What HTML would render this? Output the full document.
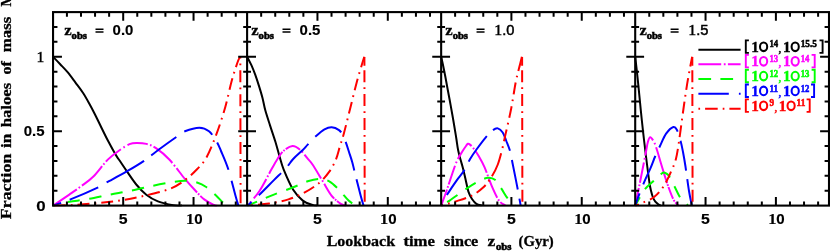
<!DOCTYPE html>
<html><head><meta charset="utf-8"><title>Fraction in haloes</title>
<style>
html,body{margin:0;padding:0;background:#fff;}
body{width:830px;height:251px;overflow:hidden;position:relative;font-family:"Liberation Serif",serif;}
</style></head><body>
<svg width="830" height="251" viewBox="0 0 830 251" style="position:absolute;left:0;top:0;will-change:transform">
<rect x="0" y="0" width="830" height="251" fill="#ffffff"/>
<defs><clipPath id="cf"><rect x="53.05" y="12.10" width="775.95" height="194.50"/></clipPath></defs>
<g clip-path="url(#cf)" fill="none" stroke-width="2.00" stroke-linejoin="round">
<path d="M53.00,56.70 C54.20,57.95 57.73,61.58 60.20,64.20 C62.67,66.82 65.25,69.33 67.80,72.40 C70.35,75.47 72.95,79.17 75.50,82.60 C78.05,86.03 80.77,89.43 83.10,93.00 C85.43,96.57 87.60,100.58 89.50,104.00 C91.40,107.42 92.68,109.92 94.50,113.50 C96.32,117.08 98.15,120.95 100.40,125.50 C102.65,130.05 105.45,135.92 108.00,140.80 C110.55,145.68 113.77,151.52 115.70,154.80 C117.63,158.08 117.70,157.70 119.60,160.50 C121.50,163.30 124.25,167.52 127.10,171.60 C129.95,175.68 133.50,181.15 136.70,185.00 C139.90,188.85 142.77,191.97 146.30,194.70 C149.83,197.43 153.40,199.63 157.90,201.40 C162.40,203.17 169.28,204.60 173.30,205.30 C177.32,206.00 180.55,205.55 182.00,205.60" stroke="#000000"/>
<path d="M53.00,205.70 C55.72,203.85 64.58,197.87 69.30,194.60 C74.02,191.33 77.28,189.12 81.30,186.10 C85.32,183.08 88.98,180.92 93.40,176.50 C97.82,172.08 103.38,164.02 107.80,159.60 C112.22,155.18 116.28,152.58 119.90,150.00 C123.52,147.42 126.70,145.28 129.50,144.10 C132.30,142.92 133.88,142.93 136.70,142.90 C139.52,142.87 143.18,143.02 146.40,143.90 C149.62,144.78 152.18,145.60 156.00,148.20 C159.82,150.80 164.48,154.38 169.30,159.50 C174.12,164.62 180.68,173.85 184.90,178.90 C189.12,183.95 191.38,186.38 194.60,189.80 C197.82,193.22 200.98,196.87 204.20,199.40 C207.42,201.93 211.77,203.95 213.90,205.00 C216.03,206.05 216.48,205.58 217.00,205.70" stroke="#ff00ff" stroke-dasharray="28.96 2.26 1.70 2.26 28.22 2.00 1.70 2.00 19.59 3.04 1.70 3.04 20.87 2.41 1.70 2.41 24.88 2.45 1.70 2.45 31.77 1.47 1.70 1.47 2000.00 0.01 0.01 0.01"/>
<path d="M53.00,205.70 C55.72,205.05 63.78,202.85 69.30,201.80 C74.82,200.75 79.28,200.60 86.10,199.40 C92.92,198.20 102.97,196.00 110.20,194.60 C117.43,193.20 122.67,192.42 129.50,191.00 C136.33,189.58 144.37,187.52 151.20,186.10 C158.03,184.68 164.88,183.38 170.50,182.50 C176.12,181.62 180.48,180.80 184.90,180.80 C189.32,180.80 193.38,181.42 197.00,182.50 C200.62,183.58 203.38,185.08 206.60,187.30 C209.82,189.52 213.48,193.18 216.30,195.80 C219.12,198.42 221.22,201.35 223.50,203.00 C225.78,204.65 228.92,205.25 230.00,205.70" stroke="#00ff00" stroke-dasharray="12.2 9.55" stroke-dashoffset="6.45"/>
<path d="M53.00,205.70 C55.92,204.65 62.97,202.47 70.50,199.40 C78.03,196.33 92.18,190.12 98.20,187.30 C104.22,184.48 101.78,185.18 106.60,182.50 C111.42,179.82 120.87,174.82 127.10,171.20 C133.33,167.58 138.58,164.50 144.00,160.80 C149.42,157.10 154.18,152.98 159.60,149.00 C165.02,145.02 172.28,139.85 176.50,136.90 C180.72,133.95 181.08,132.83 184.90,131.30 C188.72,129.77 195.38,127.70 199.40,127.70 C203.42,127.70 206.18,129.08 209.00,131.30 C211.82,133.52 214.30,137.72 216.30,141.00 C218.30,144.28 219.00,146.28 221.00,151.00 C223.00,155.72 225.88,161.83 228.30,169.30 C230.72,176.77 233.82,189.73 235.50,195.80 C237.18,201.87 237.92,204.05 238.40,205.70" stroke="#0000ff" stroke-dasharray="8.75 9.05 31.04 9.69 43.26 9.07 31.02 9.81 30.78 8.95 29.72 11.36 2000.00 0.01"/>
<path d="M53.00,205.70 C56.50,205.58 66.47,205.45 74.00,205.00 C81.53,204.55 90.15,203.82 98.20,203.00 C106.25,202.18 114.27,201.38 122.30,200.10 C130.33,198.82 138.37,197.22 146.40,195.30 C154.43,193.38 164.08,191.13 170.50,188.60 C176.92,186.07 180.48,183.32 184.90,180.10 C189.32,176.88 193.38,173.12 197.00,169.30 C200.62,165.48 203.33,163.13 206.60,157.20 C209.87,151.27 213.48,142.07 216.60,133.70 C219.72,125.33 222.80,115.73 225.30,107.00 C227.80,98.27 229.62,88.58 231.60,81.30 C233.58,74.02 235.80,67.40 237.20,63.30 C238.60,59.20 239.53,57.80 240.00,56.70" stroke="#ff0000" stroke-dasharray="11.9 5.1 1.7 5.1" stroke-dashoffset="23.00"/>
<path d="M240.30,56.90 L240.60,206.00" stroke="#ff0000" stroke-dasharray="1.50 5.10 1.75 5.10 11.95 5.10 1.75 5.10 11.95 5.10 1.75 5.10 11.95 5.10 1.75 5.10 11.95 5.10 1.75 5.10 11.95 5.10 1.75 5.10 11.95 0.01"/>
<path d="M247.10,56.70 C247.83,58.15 250.13,62.37 251.50,65.40 C252.87,68.43 254.03,71.40 255.30,74.90 C256.57,78.40 257.90,82.55 259.10,86.40 C260.30,90.25 261.47,94.02 262.50,98.00 C263.53,101.98 264.03,105.70 265.30,110.30 C266.57,114.90 268.42,120.35 270.10,125.60 C271.78,130.85 273.80,136.57 275.40,141.80 C277.00,147.03 278.33,152.42 279.70,157.00 C281.07,161.58 281.35,163.83 283.60,169.30 C285.85,174.77 290.00,184.58 293.20,189.80 C296.40,195.02 299.58,198.08 302.80,200.60 C306.02,203.12 310.08,204.07 312.50,204.90 C314.92,205.73 316.50,205.48 317.30,205.60" stroke="#000000"/>
<path d="M247.30,205.70 C249.33,203.25 255.47,197.07 259.50,191.00 C263.53,184.93 268.50,174.63 271.50,169.30 C274.50,163.97 275.48,162.08 277.50,159.00 C279.52,155.92 281.10,152.97 283.60,150.80 C286.10,148.63 289.73,146.17 292.50,146.00 C295.27,145.83 297.73,147.77 300.20,149.80 C302.67,151.83 305.25,155.75 307.30,158.20 C309.35,160.65 310.03,160.85 312.50,164.50 C314.97,168.15 318.90,174.88 322.10,180.10 C325.30,185.32 328.48,191.78 331.70,195.80 C334.92,199.82 338.98,202.55 341.40,204.20 C343.82,205.85 345.40,205.45 346.20,205.70" stroke="#ff00ff" stroke-dasharray="0.30 3.90 1.70 3.90 23.05 2.17 1.70 2.17 25.56 1.38 1.70 1.38 15.92 2.45 1.70 2.45 29.04 2.30 1.70 2.30 17.84 1.02 1.70 1.02 2000.00 0.01 0.01 0.01"/>
<path d="M247.30,205.70 C249.33,204.85 255.07,202.45 259.50,200.60 C263.93,198.75 268.28,196.82 273.90,194.60 C279.52,192.38 287.57,189.52 293.20,187.30 C298.83,185.08 303.28,182.70 307.70,181.30 C312.12,179.90 316.10,178.90 319.70,178.90 C323.30,178.90 326.08,179.48 329.30,181.30 C332.52,183.12 335.78,186.58 339.00,189.80 C342.22,193.02 345.80,198.00 348.60,200.60 C351.40,203.20 354.60,204.60 355.80,205.40" stroke="#00ff00" stroke-dasharray="12.2 9.55" stroke-dashoffset="1.65"/>
<path d="M247.30,205.70 C249.33,203.85 255.07,198.87 259.50,194.60 C263.93,190.33 269.48,184.52 273.90,180.10 C278.32,175.68 282.78,171.62 286.00,168.10 C289.22,164.58 290.40,162.02 293.20,159.00 C296.00,155.98 300.38,152.40 302.80,150.00 C305.22,147.60 305.48,146.92 307.70,144.60 C309.92,142.28 313.30,138.63 316.10,136.10 C318.90,133.57 321.90,130.88 324.50,129.40 C327.10,127.92 329.28,127.08 331.70,127.20 C334.12,127.32 337.12,128.72 339.00,130.10 C340.88,131.48 341.80,133.28 343.00,135.50 C344.20,137.72 345.20,140.65 346.20,143.40 C347.20,146.15 348.00,148.90 349.00,152.00 C350.00,155.10 351.27,158.72 352.20,162.00 C353.13,165.28 353.18,166.07 354.60,171.70 C356.02,177.33 359.20,190.13 360.70,195.80 C362.20,201.47 363.12,204.05 363.60,205.70" stroke="#0000ff" stroke-dasharray="5.79 9.77 31.31 9.95 30.41 9.60 30.60 10.61 30.06 8.82 2000.00 0.01"/>
<path d="M247.30,205.70 C250.93,205.33 262.25,204.55 269.10,203.50 C275.95,202.45 282.38,201.28 288.40,199.40 C294.42,197.52 299.98,195.02 305.20,192.20 C310.42,189.38 315.68,185.92 319.70,182.50 C323.72,179.08 326.58,175.57 329.30,171.70 C332.02,167.83 334.22,163.58 336.00,159.30 C337.78,155.02 338.70,150.27 340.00,146.00 C341.30,141.73 342.17,139.70 343.80,133.70 C345.43,127.70 347.60,118.73 349.80,110.00 C352.00,101.27 354.98,88.88 357.00,81.30 C359.02,73.72 360.68,68.60 361.90,64.50 C363.12,60.40 363.90,58.00 364.30,56.70" stroke="#ff0000" stroke-dasharray="11.9 5.1 1.7 5.1" stroke-dashoffset="13.00"/>
<path d="M364.40,56.90 L364.70,206.00" stroke="#ff0000" stroke-dasharray="8.90 4.40 11.95 5.10 1.75 5.10 11.95 5.10 1.75 5.10 11.95 5.10 1.75 5.10 11.95 5.10 1.75 5.10 11.95 5.10 1.75 5.10 11.95 5.10 1.75 5.10 11.95 0.01"/>
<path d="M441.20,56.70 C441.53,58.25 442.52,62.70 443.20,66.00 C443.88,69.30 444.57,72.67 445.30,76.50 C446.03,80.33 446.82,84.80 447.60,89.00 C448.38,93.20 449.22,97.45 450.00,101.70 C450.78,105.95 451.53,110.12 452.30,114.50 C453.07,118.88 453.92,123.92 454.60,128.00 C455.28,132.08 455.82,135.33 456.40,139.00 C456.98,142.67 457.42,146.58 458.10,150.00 C458.78,153.42 459.70,156.50 460.50,159.50 C461.30,162.50 462.03,164.58 462.90,168.00 C463.77,171.42 464.77,176.02 465.70,180.00 C466.63,183.98 467.45,188.73 468.50,191.90 C469.55,195.07 470.68,197.02 472.00,199.00 C473.32,200.98 474.73,202.73 476.40,203.80 C478.07,204.87 481.07,205.13 482.00,205.40" stroke="#000000"/>
<path d="M441.20,205.70 C442.17,203.00 445.20,194.70 447.00,189.50 C448.80,184.30 450.35,179.25 452.00,174.50 C453.65,169.75 455.18,164.83 456.90,161.00 C458.62,157.17 460.78,154.00 462.30,151.50 C463.82,149.00 465.07,147.28 466.00,146.00 C466.93,144.72 467.23,144.03 467.90,143.80 C468.57,143.57 469.07,143.85 470.00,144.60 C470.93,145.35 472.08,146.43 473.50,148.30 C474.92,150.17 476.65,152.62 478.50,155.80 C480.35,158.98 482.38,162.35 484.60,167.40 C486.82,172.45 489.40,180.57 491.80,186.10 C494.20,191.63 496.75,197.38 499.00,200.60 C501.25,203.82 504.25,204.60 505.30,205.40" stroke="#ff00ff" stroke-dasharray="17.21 1.73 1.70 1.73 19.84 2.77 1.70 2.77 22.86 2.32 1.70 2.32 24.48 1.97 1.70 1.97 21.41 1.86 1.70 1.86 2000.00 0.01 0.01 0.01"/>
<path d="M441.20,205.70 C442.60,204.85 445.38,203.45 449.60,200.60 C453.82,197.75 461.67,191.82 466.50,188.60 C471.33,185.38 474.98,183.12 478.60,181.30 C482.22,179.48 485.40,177.90 488.20,177.70 C491.00,177.50 493.20,178.28 495.40,180.10 C497.60,181.92 499.38,185.58 501.40,188.60 C503.42,191.62 505.28,195.40 507.50,198.20 C509.72,201.00 513.50,204.20 514.70,205.40" stroke="#00ff00" stroke-dasharray="12.2 9.55" stroke-dashoffset="14.45"/>
<path d="M441.20,205.70 C442.20,203.85 444.58,198.87 447.20,194.60 C449.82,190.33 454.08,184.12 456.90,180.10 C459.72,176.08 461.90,174.02 464.10,170.50 C466.30,166.98 468.10,162.42 470.10,159.00 C472.10,155.58 473.48,153.62 476.10,150.00 C478.72,146.38 482.98,140.62 485.80,137.30 C488.62,133.98 491.00,131.58 493.00,130.10 C495.00,128.62 496.18,128.00 497.80,128.40 C499.42,128.80 501.28,130.40 502.70,132.50 C504.12,134.60 505.10,137.98 506.30,141.00 C507.50,144.02 508.90,147.10 509.90,150.60 C510.90,154.10 511.10,156.08 512.30,162.00 C513.50,167.92 515.70,178.82 517.10,186.10 C518.50,193.38 520.10,202.43 520.70,205.70" stroke="#0000ff" stroke-dasharray="1.98 10.14 30.79 9.02 31.40 8.72 31.31 9.70 29.96 9.14 2000.00 0.01"/>
<path d="M441.20,205.70 C443.42,205.05 449.48,203.45 454.50,201.80 C459.52,200.15 466.48,198.22 471.30,195.80 C476.12,193.38 479.98,190.52 483.40,187.30 C486.82,184.08 489.40,180.30 491.80,176.50 C494.20,172.70 496.10,168.92 497.80,164.50 C499.50,160.08 500.78,154.73 502.00,150.00 C503.22,145.27 503.58,142.93 505.10,136.10 C506.62,129.27 509.30,118.13 511.10,109.00 C512.90,99.87 514.42,88.72 515.90,81.30 C517.38,73.88 519.00,68.60 520.00,64.50 C521.00,60.40 521.58,58.00 521.90,56.70" stroke="#ff0000" stroke-dasharray="2.10 5.10 1.70 5.10 11.90 5.10 1.70 5.10 11.90 4.55 1.70 4.55 24.80 5.40 1.70 5.40 12.10 5.10 1.70 5.10 11.90 5.10 1.70 5.10 11.90 5.10 1.70 5.10 2000.00 0.01 0.01 0.01"/>
<path d="M522.10,56.90 L522.40,206.00" stroke="#ff0000" stroke-dasharray="8.90 4.40 11.95 5.10 1.75 5.10 11.95 5.10 1.75 5.10 11.95 5.10 1.75 5.10 11.95 5.10 1.75 5.10 11.95 5.10 1.75 5.10 11.95 5.10 1.75 5.10 11.95 0.01"/>
<path d="M635.20,56.70 C635.60,60.25 636.82,70.62 637.60,78.00 C638.38,85.38 639.20,94.00 639.90,101.00 C640.60,108.00 641.08,113.25 641.80,120.00 C642.52,126.75 643.38,134.50 644.20,141.50 C645.02,148.50 645.82,155.08 646.70,162.00 C647.58,168.92 648.75,178.08 649.50,183.00 C650.25,187.92 650.62,189.08 651.20,191.50 C651.78,193.92 652.32,195.80 653.00,197.50 C653.68,199.20 654.42,200.57 655.30,201.70 C656.18,202.83 657.35,203.65 658.30,204.30 C659.25,204.95 660.55,205.38 661.00,205.60" stroke="#000000"/>
<path d="M635.20,205.70 C636.03,201.63 638.73,188.58 640.20,181.30 C641.67,174.02 642.98,167.22 644.00,162.00 C645.02,156.78 645.67,153.30 646.30,150.00 C646.93,146.70 647.15,144.32 647.80,142.20 C648.45,140.08 649.15,137.30 650.20,137.30 C651.25,137.30 652.92,139.92 654.10,142.20 C655.28,144.48 656.10,147.28 657.30,151.00 C658.50,154.72 659.63,159.05 661.30,164.50 C662.97,169.95 665.28,177.88 667.30,183.70 C669.32,189.52 671.58,195.78 673.40,199.40 C675.22,203.02 677.40,204.40 678.20,205.40" stroke="#ff00ff" stroke-dasharray="17.99 1.83 1.70 1.83 20.69 2.74 1.70 2.74 23.48 2.93 1.70 2.93 37.50 1.17 1.70 1.17 12.59 1.24 1.70 1.24 2000.00 0.01 0.01 0.01"/>
<path d="M635.20,205.70 C636.75,203.05 641.58,193.78 644.50,189.80 C647.42,185.82 650.45,183.97 652.70,181.80 C654.95,179.63 656.67,178.03 658.00,176.80 C659.33,175.57 659.77,175.13 660.70,174.40 C661.63,173.67 662.72,172.57 663.60,172.40 C664.48,172.23 665.12,172.83 666.00,173.40 C666.88,173.97 667.53,173.73 668.90,175.80 C670.27,177.87 672.25,182.07 674.20,185.80 C676.15,189.53 678.33,194.97 680.60,198.20 C682.87,201.43 686.60,204.03 687.80,205.20" stroke="#00ff00" stroke-dasharray="12.2 9.55" stroke-dashoffset="2.65"/>
<path d="M635.20,205.70 C635.93,203.65 638.05,197.47 639.60,193.40 C641.15,189.33 642.68,185.52 644.50,181.30 C646.32,177.08 648.70,172.32 650.50,168.10 C652.30,163.88 653.70,159.72 655.30,156.00 C656.90,152.28 658.30,149.52 660.10,145.80 C661.90,142.08 663.88,136.83 666.10,133.70 C668.32,130.57 671.58,127.60 673.40,127.00 C675.22,126.40 675.80,127.77 677.00,130.10 C678.20,132.43 679.60,137.35 680.60,141.00 C681.60,144.65 682.20,147.83 683.00,152.00 C683.80,156.17 684.40,159.50 685.40,166.00 C686.40,172.50 687.92,184.38 689.00,191.00 C690.08,197.62 691.42,203.25 691.90,205.70" stroke="#0000ff" stroke-dasharray="13.06 9.91 30.86 9.28 32.48 9.28 30.36 8.54 2000.00 0.01"/>
<path d="M635.20,205.70 C636.33,205.25 638.85,204.45 642.00,203.00 C645.15,201.55 650.48,199.82 654.10,197.00 C657.72,194.18 660.88,190.32 663.70,186.10 C666.52,181.88 668.98,176.15 671.00,171.70 C673.02,167.25 674.55,163.85 675.80,159.40 C677.05,154.95 677.73,149.68 678.50,145.00 C679.27,140.32 679.48,137.97 680.40,131.30 C681.32,124.63 682.87,112.93 684.00,105.00 C685.13,97.07 686.17,90.05 687.20,83.70 C688.23,77.35 689.37,71.40 690.20,66.90 C691.03,62.40 691.87,58.40 692.20,56.70" stroke="#ff0000" stroke-dasharray="11.9 5.1 1.7 5.1" stroke-dashoffset="7.80"/>
<path d="M692.30,56.90 L692.60,206.00" stroke="#ff0000" stroke-dasharray="8.90 4.40 11.95 5.10 1.75 5.10 11.95 5.10 1.75 5.10 11.95 5.10 1.75 5.10 11.95 5.10 1.75 5.10 11.95 5.10 1.75 5.10 11.95 5.10 1.75 5.10 11.95 0.01"/>
</g>
<g stroke="#000" fill="none">
<rect x="53.05" y="12.10" width="775.95" height="193.50" stroke-width="2.10"/>
<line x1="247.10" y1="12.10" x2="247.10" y2="205.60" stroke-width="2.10"/>
<line x1="441.15" y1="12.10" x2="441.15" y2="205.60" stroke-width="2.10"/>
<line x1="635.20" y1="12.10" x2="635.20" y2="205.60" stroke-width="2.10"/>
<path d="M66.92,205.60 L66.92,201.40 M66.92,12.10 L66.92,16.80 M80.99,205.60 L80.99,201.40 M80.99,12.10 L80.99,16.80 M95.06,205.60 L95.06,201.40 M95.06,12.10 L95.06,16.80 M109.13,205.60 L109.13,201.40 M109.13,12.10 L109.13,16.80 M123.20,205.60 L123.20,196.90 M123.20,12.10 L123.20,20.80 M137.27,205.60 L137.27,201.40 M137.27,12.10 L137.27,16.80 M151.34,205.60 L151.34,201.40 M151.34,12.10 L151.34,16.80 M165.41,205.60 L165.41,201.40 M165.41,12.10 L165.41,16.80 M179.48,205.60 L179.48,201.40 M179.48,12.10 L179.48,16.80 M193.55,205.60 L193.55,196.90 M193.55,12.10 L193.55,20.80 M207.62,205.60 L207.62,201.40 M207.62,12.10 L207.62,16.80 M221.69,205.60 L221.69,201.40 M221.69,12.10 L221.69,16.80 M235.76,205.60 L235.76,201.40 M235.76,12.10 L235.76,16.80 M261.17,205.60 L261.17,201.40 M261.17,12.10 L261.17,16.80 M275.24,205.60 L275.24,201.40 M275.24,12.10 L275.24,16.80 M289.31,205.60 L289.31,201.40 M289.31,12.10 L289.31,16.80 M303.38,205.60 L303.38,201.40 M303.38,12.10 L303.38,16.80 M317.45,205.60 L317.45,196.90 M317.45,12.10 L317.45,20.80 M331.52,205.60 L331.52,201.40 M331.52,12.10 L331.52,16.80 M345.59,205.60 L345.59,201.40 M345.59,12.10 L345.59,16.80 M359.66,205.60 L359.66,201.40 M359.66,12.10 L359.66,16.80 M373.73,205.60 L373.73,201.40 M373.73,12.10 L373.73,16.80 M387.80,205.60 L387.80,196.90 M387.80,12.10 L387.80,20.80 M401.87,205.60 L401.87,201.40 M401.87,12.10 L401.87,16.80 M415.94,205.60 L415.94,201.40 M415.94,12.10 L415.94,16.80 M430.01,205.60 L430.01,201.40 M430.01,12.10 L430.01,16.80 M455.12,205.60 L455.12,201.40 M455.12,12.10 L455.12,16.80 M469.19,205.60 L469.19,201.40 M469.19,12.10 L469.19,16.80 M483.26,205.60 L483.26,201.40 M483.26,12.10 L483.26,16.80 M497.33,205.60 L497.33,201.40 M497.33,12.10 L497.33,16.80 M511.40,205.60 L511.40,196.90 M511.40,12.10 L511.40,20.80 M525.47,205.60 L525.47,201.40 M525.47,12.10 L525.47,16.80 M539.54,205.60 L539.54,201.40 M539.54,12.10 L539.54,16.80 M553.61,205.60 L553.61,201.40 M553.61,12.10 L553.61,16.80 M567.68,205.60 L567.68,201.40 M567.68,12.10 L567.68,16.80 M581.75,205.60 L581.75,196.90 M581.75,12.10 L581.75,20.80 M595.82,205.60 L595.82,201.40 M595.82,12.10 L595.82,16.80 M609.89,205.60 L609.89,201.40 M609.89,12.10 L609.89,16.80 M623.96,205.60 L623.96,201.40 M623.96,12.10 L623.96,16.80 M649.27,205.60 L649.27,201.40 M649.27,12.10 L649.27,16.80 M663.34,205.60 L663.34,201.40 M663.34,12.10 L663.34,16.80 M677.41,205.60 L677.41,201.40 M677.41,12.10 L677.41,16.80 M691.48,205.60 L691.48,201.40 M691.48,12.10 L691.48,16.80 M705.55,205.60 L705.55,196.90 M705.55,12.10 L705.55,20.80 M719.62,205.60 L719.62,201.40 M719.62,12.10 L719.62,16.80 M733.69,205.60 L733.69,201.40 M733.69,12.10 L733.69,16.80 M747.76,205.60 L747.76,201.40 M747.76,12.10 L747.76,16.80 M761.83,205.60 L761.83,201.40 M761.83,12.10 L761.83,16.80 M775.90,205.60 L775.90,196.90 M775.90,12.10 L775.90,20.80 M789.97,205.60 L789.97,201.40 M789.97,12.10 L789.97,16.80 M804.04,205.60 L804.04,201.40 M804.04,12.10 L804.04,16.80 M818.11,205.60 L818.11,201.40 M818.11,12.10 L818.11,16.80 M53.05,190.72 L57.45,190.72 M243.20,190.72 L251.00,190.72 M437.25,190.72 L445.05,190.72 M631.30,190.72 L639.10,190.72 M829.00,190.72 L824.60,190.72 M53.05,175.83 L57.45,175.83 M243.20,175.83 L251.00,175.83 M437.25,175.83 L445.05,175.83 M631.30,175.83 L639.10,175.83 M829.00,175.83 L824.60,175.83 M53.05,160.95 L57.45,160.95 M243.20,160.95 L251.00,160.95 M437.25,160.95 L445.05,160.95 M631.30,160.95 L639.10,160.95 M829.00,160.95 L824.60,160.95 M53.05,146.06 L57.45,146.06 M243.20,146.06 L251.00,146.06 M437.25,146.06 L445.05,146.06 M631.30,146.06 L639.10,146.06 M829.00,146.06 L824.60,146.06 M53.05,131.18 L61.95,131.18 M238.20,131.18 L256.00,131.18 M432.25,131.18 L450.05,131.18 M626.30,131.18 L644.10,131.18 M829.00,131.18 L820.10,131.18 M53.05,116.29 L57.45,116.29 M243.20,116.29 L251.00,116.29 M437.25,116.29 L445.05,116.29 M631.30,116.29 L639.10,116.29 M829.00,116.29 L824.60,116.29 M53.05,101.41 L57.45,101.41 M243.20,101.41 L251.00,101.41 M437.25,101.41 L445.05,101.41 M631.30,101.41 L639.10,101.41 M829.00,101.41 L824.60,101.41 M53.05,86.52 L57.45,86.52 M243.20,86.52 L251.00,86.52 M437.25,86.52 L445.05,86.52 M631.30,86.52 L639.10,86.52 M829.00,86.52 L824.60,86.52 M53.05,71.64 L57.45,71.64 M243.20,71.64 L251.00,71.64 M437.25,71.64 L445.05,71.64 M631.30,71.64 L639.10,71.64 M829.00,71.64 L824.60,71.64 M53.05,56.75 L61.95,56.75 M238.20,56.75 L256.00,56.75 M432.25,56.75 L450.05,56.75 M626.30,56.75 L644.10,56.75 M829.00,56.75 L820.10,56.75 M53.05,41.87 L57.45,41.87 M243.20,41.87 L251.00,41.87 M437.25,41.87 L445.05,41.87 M631.30,41.87 L639.10,41.87 M829.00,41.87 L824.60,41.87 M53.05,26.98 L57.45,26.98 M243.20,26.98 L251.00,26.98 M437.25,26.98 L445.05,26.98 M631.30,26.98 L639.10,26.98 M829.00,26.98 L824.60,26.98" stroke-width="2.00"/>
</g>
<line x1="698.40" y1="49.70" x2="740.60" y2="49.70" stroke="#000000" stroke-width="2.00"/>
<line x1="698.40" y1="64.20" x2="740.60" y2="64.20" stroke="#ff00ff" stroke-width="2.00" stroke-dasharray="22.8 2.6 1.8 2.3"/>
<line x1="698.40" y1="79.00" x2="740.60" y2="79.00" stroke="#00ff00" stroke-width="2.00" stroke-dasharray="12.7 9.3"/>
<line x1="698.40" y1="93.80" x2="740.60" y2="93.80" stroke="#0000ff" stroke-width="2.00" stroke-dasharray="30.4 10.1"/>
<line x1="698.40" y1="108.70" x2="740.60" y2="108.70" stroke="#ff0000" stroke-width="2.00" stroke-dasharray="1.7 5 12.6 5"/>
<g font-family="'Liberation Serif', serif" font-weight="bold">
<path d="M748.90,40.40 H745.80 V52.90 H748.90" fill="none" stroke="#000000" stroke-width="1.9"/>
<text x="751.30" y="51.80" font-size="15.60" fill="#000000" stroke="#000000" stroke-width="0.4" textLength="7.6" lengthAdjust="spacingAndGlyphs">1</text><ellipse cx="763.60" cy="46.80" rx="3.6" ry="4.3" fill="none" stroke="#000000" stroke-width="2.05"/>
<text x="769.40" y="47.40" font-size="10.10" fill="#000000" stroke="#000000" stroke-width="0.55" text-anchor="start" textLength="8.70" lengthAdjust="spacingAndGlyphs">14</text>
<text x="778.30" y="51.60" font-size="13" font-weight="normal" fill="#000000" stroke="#000000" stroke-width="0.35">,</text>
<text x="782.90" y="51.80" font-size="15.60" fill="#000000" stroke="#000000" stroke-width="0.4" textLength="7.6" lengthAdjust="spacingAndGlyphs">1</text><ellipse cx="795.20" cy="46.80" rx="3.6" ry="4.3" fill="none" stroke="#000000" stroke-width="2.05"/>
<text x="800.70" y="47.40" font-size="10.10" fill="#000000" stroke="#000000" stroke-width="0.55" text-anchor="start" textLength="16.20" lengthAdjust="spacingAndGlyphs">15.5</text>
<path d="M819.50,40.40 H822.60 V52.90 H819.50" fill="none" stroke="#000000" stroke-width="1.9"/>
<path d="M748.90,54.90 H745.80 V67.40 H748.90" fill="none" stroke="#ff00ff" stroke-width="1.9"/>
<text x="751.30" y="66.30" font-size="15.60" fill="#ff00ff" stroke="#ff00ff" stroke-width="0.4" textLength="7.6" lengthAdjust="spacingAndGlyphs">1</text><ellipse cx="763.60" cy="61.30" rx="3.6" ry="4.3" fill="none" stroke="#ff00ff" stroke-width="2.05"/>
<text x="769.40" y="61.90" font-size="10.10" fill="#ff00ff" stroke="#ff00ff" stroke-width="0.55" text-anchor="start" textLength="8.70" lengthAdjust="spacingAndGlyphs">13</text>
<text x="778.30" y="66.10" font-size="13" font-weight="normal" fill="#ff00ff" stroke="#ff00ff" stroke-width="0.35">,</text>
<text x="782.90" y="66.30" font-size="15.60" fill="#ff00ff" stroke="#ff00ff" stroke-width="0.4" textLength="7.6" lengthAdjust="spacingAndGlyphs">1</text><ellipse cx="795.20" cy="61.30" rx="3.6" ry="4.3" fill="none" stroke="#ff00ff" stroke-width="2.05"/>
<text x="800.70" y="61.90" font-size="10.10" fill="#ff00ff" stroke="#ff00ff" stroke-width="0.55" text-anchor="start" textLength="8.70" lengthAdjust="spacingAndGlyphs">14</text>
<path d="M811.60,54.90 H814.70 V67.40 H811.60" fill="none" stroke="#ff00ff" stroke-width="1.9"/>
<path d="M748.90,69.70 H745.80 V82.20 H748.90" fill="none" stroke="#00ff00" stroke-width="1.9"/>
<text x="751.30" y="81.10" font-size="15.60" fill="#00ff00" stroke="#00ff00" stroke-width="0.4" textLength="7.6" lengthAdjust="spacingAndGlyphs">1</text><ellipse cx="763.60" cy="76.10" rx="3.6" ry="4.3" fill="none" stroke="#00ff00" stroke-width="2.05"/>
<text x="769.40" y="76.70" font-size="10.10" fill="#00ff00" stroke="#00ff00" stroke-width="0.55" text-anchor="start" textLength="8.70" lengthAdjust="spacingAndGlyphs">12</text>
<text x="778.30" y="80.90" font-size="13" font-weight="normal" fill="#00ff00" stroke="#00ff00" stroke-width="0.35">,</text>
<text x="782.90" y="81.10" font-size="15.60" fill="#00ff00" stroke="#00ff00" stroke-width="0.4" textLength="7.6" lengthAdjust="spacingAndGlyphs">1</text><ellipse cx="795.20" cy="76.10" rx="3.6" ry="4.3" fill="none" stroke="#00ff00" stroke-width="2.05"/>
<text x="800.70" y="76.70" font-size="10.10" fill="#00ff00" stroke="#00ff00" stroke-width="0.55" text-anchor="start" textLength="8.70" lengthAdjust="spacingAndGlyphs">13</text>
<path d="M811.60,69.70 H814.70 V82.20 H811.60" fill="none" stroke="#00ff00" stroke-width="1.9"/>
<path d="M748.90,84.50 H745.80 V97.00 H748.90" fill="none" stroke="#0000ff" stroke-width="1.9"/>
<text x="751.30" y="95.90" font-size="15.60" fill="#0000ff" stroke="#0000ff" stroke-width="0.4" textLength="7.6" lengthAdjust="spacingAndGlyphs">1</text><ellipse cx="763.60" cy="90.90" rx="3.6" ry="4.3" fill="none" stroke="#0000ff" stroke-width="2.05"/>
<text x="769.40" y="91.50" font-size="10.10" fill="#0000ff" stroke="#0000ff" stroke-width="0.55" text-anchor="start" textLength="8.70" lengthAdjust="spacingAndGlyphs">11</text>
<text x="778.30" y="95.70" font-size="13" font-weight="normal" fill="#0000ff" stroke="#0000ff" stroke-width="0.35">,</text>
<text x="782.90" y="95.90" font-size="15.60" fill="#0000ff" stroke="#0000ff" stroke-width="0.4" textLength="7.6" lengthAdjust="spacingAndGlyphs">1</text><ellipse cx="795.20" cy="90.90" rx="3.6" ry="4.3" fill="none" stroke="#0000ff" stroke-width="2.05"/>
<text x="800.70" y="91.50" font-size="10.10" fill="#0000ff" stroke="#0000ff" stroke-width="0.55" text-anchor="start" textLength="8.70" lengthAdjust="spacingAndGlyphs">12</text>
<path d="M811.00,84.50 H814.10 V97.00 H811.00" fill="none" stroke="#0000ff" stroke-width="1.9"/>
<path d="M748.90,99.40 H745.80 V111.90 H748.90" fill="none" stroke="#ff0000" stroke-width="1.9"/>
<text x="751.30" y="110.80" font-size="15.60" fill="#ff0000" stroke="#ff0000" stroke-width="0.4" textLength="7.6" lengthAdjust="spacingAndGlyphs">1</text><ellipse cx="763.60" cy="105.80" rx="3.6" ry="4.3" fill="none" stroke="#ff0000" stroke-width="2.05"/>
<text x="769.40" y="106.40" font-size="10.10" fill="#ff0000" stroke="#ff0000" stroke-width="0.55" text-anchor="start" textLength="4.60" lengthAdjust="spacingAndGlyphs">9</text>
<text x="774.20" y="110.60" font-size="13" font-weight="normal" fill="#ff0000" stroke="#ff0000" stroke-width="0.35">,</text>
<text x="778.80" y="110.80" font-size="15.60" fill="#ff0000" stroke="#ff0000" stroke-width="0.4" textLength="7.6" lengthAdjust="spacingAndGlyphs">1</text><ellipse cx="791.10" cy="105.80" rx="3.6" ry="4.3" fill="none" stroke="#ff0000" stroke-width="2.05"/>
<text x="796.60" y="106.40" font-size="10.10" fill="#ff0000" stroke="#ff0000" stroke-width="0.55" text-anchor="start" textLength="8.70" lengthAdjust="spacingAndGlyphs">11</text>
<path d="M806.60,99.40 H809.70 V111.90 H806.60" fill="none" stroke="#ff0000" stroke-width="1.9"/>
<text x="64.30" y="34.90" font-size="15.60" fill="#000" stroke="#000" stroke-width="0.30" text-anchor="start" textLength="7.40" lengthAdjust="spacingAndGlyphs">z</text>
<text x="71.60" y="39.10" font-size="9.30" fill="#000" stroke="#000" stroke-width="0.55" text-anchor="start" textLength="15.30" lengthAdjust="spacingAndGlyphs">obs</text>
<path d="M95.50,29.2 h8.0 M95.50,31.9 h8.0" stroke="#000" stroke-width="1.5" fill="none"/>
<text x="112.60" y="34.90" fill="#000" stroke="#000" stroke-width="0.15" text-anchor="start" textLength="20.80" lengthAdjust="spacingAndGlyphs"><tspan font-family="'Liberation Sans', sans-serif" font-size="14.4">0</tspan><tspan font-family="'Liberation Sans', sans-serif" font-size="14.4">.</tspan><tspan font-family="'Liberation Sans', sans-serif" font-size="14.4">0</tspan></text>
<text x="251.30" y="34.90" font-size="15.60" fill="#000" stroke="#000" stroke-width="0.30" text-anchor="start" textLength="7.40" lengthAdjust="spacingAndGlyphs">z</text>
<text x="258.60" y="39.10" font-size="9.30" fill="#000" stroke="#000" stroke-width="0.55" text-anchor="start" textLength="15.30" lengthAdjust="spacingAndGlyphs">obs</text>
<path d="M282.50,29.2 h8.0 M282.50,31.9 h8.0" stroke="#000" stroke-width="1.5" fill="none"/>
<text x="299.60" y="34.90" fill="#000" stroke="#000" stroke-width="0.15" text-anchor="start" textLength="20.80" lengthAdjust="spacingAndGlyphs"><tspan font-family="'Liberation Sans', sans-serif" font-size="14.4">0</tspan><tspan font-family="'Liberation Sans', sans-serif" font-size="14.4">.</tspan><tspan font-family="'Liberation Sans', sans-serif" font-size="14.4">5</tspan></text>
<text x="445.35" y="34.90" font-size="15.60" fill="#000" stroke="#000" stroke-width="0.30" text-anchor="start" textLength="7.40" lengthAdjust="spacingAndGlyphs">z</text>
<text x="452.65" y="39.10" font-size="9.30" fill="#000" stroke="#000" stroke-width="0.55" text-anchor="start" textLength="15.30" lengthAdjust="spacingAndGlyphs">obs</text>
<path d="M476.55,29.2 h8.0 M476.55,31.9 h8.0" stroke="#000" stroke-width="1.5" fill="none"/>
<text x="494.25" y="34.90" fill="#000" stroke="#000" stroke-width="0.50" font-weight="normal" text-anchor="start" textLength="20.20" lengthAdjust="spacingAndGlyphs"><tspan font-family="'Liberation Serif', serif" font-size="15.60">1</tspan><tspan font-family="'Liberation Sans', sans-serif" font-size="14.4">.</tspan><tspan font-family="'Liberation Sans', sans-serif" font-size="14.4">0</tspan></text>
<text x="639.40" y="34.90" font-size="15.60" fill="#000" stroke="#000" stroke-width="0.30" text-anchor="start" textLength="7.40" lengthAdjust="spacingAndGlyphs">z</text>
<text x="646.70" y="39.10" font-size="9.30" fill="#000" stroke="#000" stroke-width="0.55" text-anchor="start" textLength="15.30" lengthAdjust="spacingAndGlyphs">obs</text>
<path d="M670.60,29.2 h8.0 M670.60,31.9 h8.0" stroke="#000" stroke-width="1.5" fill="none"/>
<text x="688.30" y="34.90" fill="#000" stroke="#000" stroke-width="0.50" font-weight="normal" text-anchor="start" textLength="20.20" lengthAdjust="spacingAndGlyphs"><tspan font-family="'Liberation Serif', serif" font-size="15.60">1</tspan><tspan font-family="'Liberation Sans', sans-serif" font-size="14.4">.</tspan><tspan font-family="'Liberation Sans', sans-serif" font-size="14.4">5</tspan></text>
<text x="118.85" y="223.70" fill="#000" stroke="#000" stroke-width="0.15" text-anchor="start" textLength="8.80" lengthAdjust="spacingAndGlyphs"><tspan font-family="'Liberation Sans', sans-serif" font-size="14.4">5</tspan></text>
<text x="194.35" y="223.60" fill="#000" stroke="#000" stroke-width="0.15" text-anchor="middle" textLength="16.60" lengthAdjust="spacingAndGlyphs"><tspan font-family="'Liberation Serif', serif" font-size="15.60">1</tspan><tspan font-family="'Liberation Sans', sans-serif" font-size="14.4">0</tspan></text>
<text x="312.90" y="223.70" fill="#000" stroke="#000" stroke-width="0.15" text-anchor="start" textLength="8.80" lengthAdjust="spacingAndGlyphs"><tspan font-family="'Liberation Sans', sans-serif" font-size="14.4">5</tspan></text>
<text x="388.40" y="223.60" fill="#000" stroke="#000" stroke-width="0.15" text-anchor="middle" textLength="16.60" lengthAdjust="spacingAndGlyphs"><tspan font-family="'Liberation Serif', serif" font-size="15.60">1</tspan><tspan font-family="'Liberation Sans', sans-serif" font-size="14.4">0</tspan></text>
<text x="506.95" y="223.70" fill="#000" stroke="#000" stroke-width="0.15" text-anchor="start" textLength="8.80" lengthAdjust="spacingAndGlyphs"><tspan font-family="'Liberation Sans', sans-serif" font-size="14.4">5</tspan></text>
<text x="582.45" y="223.60" fill="#000" stroke="#000" stroke-width="0.15" text-anchor="middle" textLength="16.60" lengthAdjust="spacingAndGlyphs"><tspan font-family="'Liberation Serif', serif" font-size="15.60">1</tspan><tspan font-family="'Liberation Sans', sans-serif" font-size="14.4">0</tspan></text>
<text x="701.00" y="223.70" fill="#000" stroke="#000" stroke-width="0.15" text-anchor="start" textLength="8.80" lengthAdjust="spacingAndGlyphs"><tspan font-family="'Liberation Sans', sans-serif" font-size="14.4">5</tspan></text>
<text x="776.50" y="223.60" fill="#000" stroke="#000" stroke-width="0.15" text-anchor="middle" textLength="16.60" lengthAdjust="spacingAndGlyphs"><tspan font-family="'Liberation Serif', serif" font-size="15.60">1</tspan><tspan font-family="'Liberation Sans', sans-serif" font-size="14.4">0</tspan></text>
<text x="44.2" y="61.6" font-size="15.60" font-weight="normal" stroke="#000" stroke-width="0.45" text-anchor="end">1</text>
<text x="44.60" y="136.30" fill="#000" stroke="#000" stroke-width="0.15" text-anchor="end" textLength="20.80" lengthAdjust="spacingAndGlyphs"><tspan font-family="'Liberation Sans', sans-serif" font-size="14.4">0</tspan><tspan font-family="'Liberation Sans', sans-serif" font-size="14.4">.</tspan><tspan font-family="'Liberation Sans', sans-serif" font-size="14.4">5</tspan></text>
<text x="36.20" y="210.90" fill="#000" stroke="#000" stroke-width="0.15" text-anchor="start" textLength="9.40" lengthAdjust="spacingAndGlyphs"><tspan font-family="'Liberation Sans', sans-serif" font-size="14.4">0</tspan></text>
<text x="326.70" y="246.40" font-size="15.60" fill="#000" stroke="#000" stroke-width="0.30" text-anchor="start" textLength="68.40" lengthAdjust="spacingAndGlyphs">Lookback</text>
<text x="403.40" y="246.40" font-size="15.60" fill="#000" stroke="#000" stroke-width="0.30" text-anchor="start" textLength="31.60" lengthAdjust="spacingAndGlyphs">time</text>
<text x="444.10" y="246.40" font-size="15.60" fill="#000" stroke="#000" stroke-width="0.30" text-anchor="start" textLength="34.20" lengthAdjust="spacingAndGlyphs">since</text>
<text x="487.40" y="246.40" font-size="15.60" fill="#000" stroke="#000" stroke-width="0.30" text-anchor="start" textLength="7.80" lengthAdjust="spacingAndGlyphs">z</text>
<text x="496.00" y="250.00" font-size="9.30" fill="#000" stroke="#000" stroke-width="0.55" text-anchor="start" textLength="15.50" lengthAdjust="spacingAndGlyphs">obs</text>
<text x="518.60" y="246.40" font-size="15.60" fill="#000" stroke="#000" stroke-width="0.30" text-anchor="start" textLength="35.10" lengthAdjust="spacingAndGlyphs">(Gyr)</text>
<g transform="translate(10.9,251) rotate(-90)">
<text x="31.80" y="0.00" font-size="15.60" fill="#000" stroke="#000" stroke-width="0.30" text-anchor="start" textLength="65.60" lengthAdjust="spacingAndGlyphs">Fraction</text>
<text x="103.00" y="0.00" font-size="15.60" fill="#000" stroke="#000" stroke-width="0.30" text-anchor="start" textLength="14.30" lengthAdjust="spacingAndGlyphs">in</text>
<text x="123.70" y="0.00" font-size="15.60" fill="#000" stroke="#000" stroke-width="0.30" text-anchor="start" textLength="44.60" lengthAdjust="spacingAndGlyphs">haloes</text>
<text x="176.40" y="0.00" font-size="15.60" fill="#000" stroke="#000" stroke-width="0.30" text-anchor="start" textLength="13.40" lengthAdjust="spacingAndGlyphs">of</text>
<text x="198.80" y="0.00" font-size="15.60" fill="#000" stroke="#000" stroke-width="0.30" text-anchor="start" textLength="35.50" lengthAdjust="spacingAndGlyphs">mass</text>
<text x="244.50" y="0.00" font-size="15.60" fill="#000" stroke="#000" stroke-width="0.30" text-anchor="start" textLength="13.50" lengthAdjust="spacingAndGlyphs">M</text>
</g>
</g>
</svg>
</body></html>
